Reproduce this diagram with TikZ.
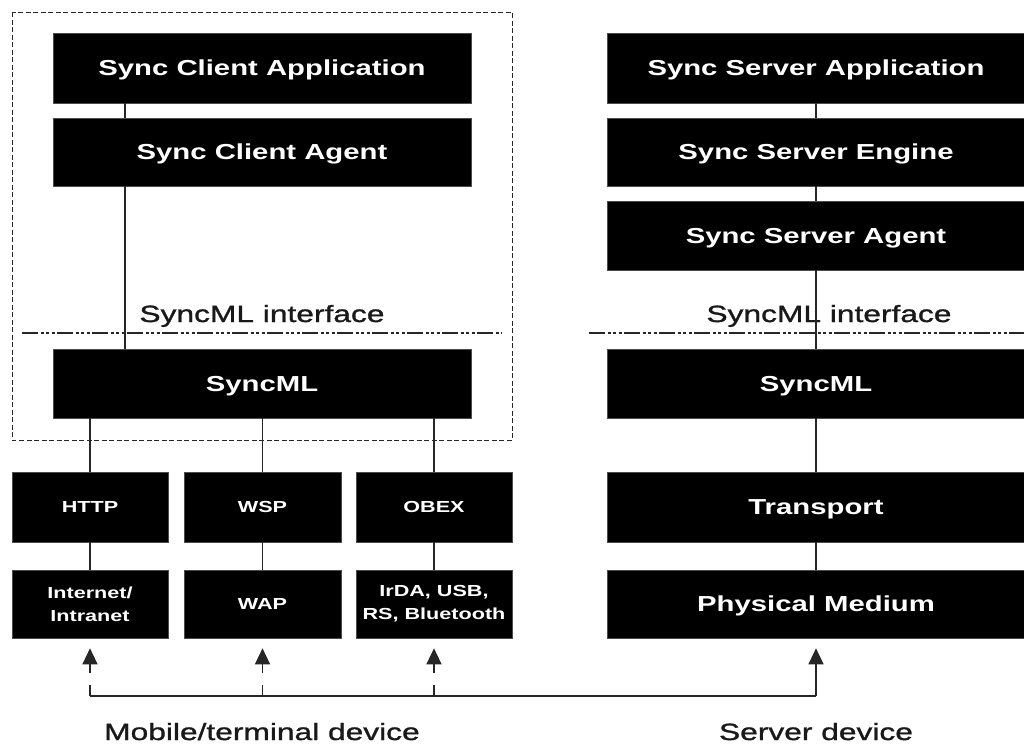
\documentclass[tikz,border=0pt]{standalone}
\usepackage{fontspec}
\setmainfont[FakeStretch=1.35]{Liberation Sans}
\newfontfamily\lblfont[FakeStretch=1.35,FakeBold=1.2]{Liberation Sans}
\usetikzlibrary{arrows.meta}
\begin{document}
\begin{tikzpicture}[x=1pt,y=-1pt,
  blk/.style={fill=black,draw=black!70,line width=0.6pt,text=white,inner sep=0pt},
  big/.style={blk,minimum width=418pt,font=\fontsize{21.7}{26}\selectfont\bfseries,text height=15.6pt,text depth=0pt},
  small/.style={blk,font=\fontsize{16}{23}\selectfont\bfseries,align=center},
  conn/.style={draw=black!85,line width=1.3pt},
  arr/.style={conn,-{Triangle[width=15pt,length=16pt]}},
  gaparr/.style={arr,dash pattern=on 11pt off 12pt on 60pt},
  dashbox/.style={draw=black!85,line width=1pt,dash pattern=on 5pt off 2.5pt},
  ifline/.style={draw=black!85,line width=1.2pt,dash pattern=on 16pt off 2.5pt on 3pt off 2.5pt on 3pt off 2.5pt on 3pt off 2.5pt},
  lbl/.style={text=black!90,inner sep=0pt,anchor=base,font=\lblfont\fontsize{23.5}{28}\selectfont}
]
\useasboundingbox (0,0) rectangle (1024,745);
\fill[white] (0,0) rectangle (1024,745);

% dashed client frame
\draw[dashbox] (12,12) rectangle (512,440);

% client stack
\node[big,minimum height=70pt] (capp) at (262,68) {Sync Client Application};
\node[big,minimum height=68pt] (cagent) at (262,152) {Sync Client Agent};
\node[big,minimum height=69pt] (csync) at (262,383.5) {SyncML};

\node[small,minimum width=156pt,minimum height=70pt] (http) at (90,507) {HTTP};
\node[small,minimum width=157pt,minimum height=70pt] (wsp) at (262.5,507) {WSP};
\node[small,minimum width=156pt,minimum height=70pt] (obex) at (434,507) {OBEX};
\node[small,minimum width=156pt,minimum height=68pt] (inet) at (90,604) {Internet/\\Intranet};
\node[small,minimum width=157pt,minimum height=68pt] (wap) at (262.5,604) {WAP};
\node[small,minimum width=156pt,minimum height=68pt] (irda) at (434,604) {IrDA, USB,\\RS, Bluetooth};

% server stack
\node[big,minimum height=70pt] (sapp) at (816,68) {Sync Server Application};
\node[big,minimum height=68pt] (seng) at (816,152) {Sync Server Engine};
\node[big,minimum height=69pt] (sagent) at (816,235.5) {Sync Server Agent};
\node[big,minimum height=69pt] (ssync) at (816,383.5) {SyncML};
\node[big,minimum height=70pt] (trans) at (816,507) {Transport};
\node[big,minimum height=68pt] (phys) at (816,604) {Physical Medium};

% interface lines and labels
\draw[ifline] (22,333) -- (502,333);
\draw[ifline] (589,333) -- (1024,333);
\node[lbl] (ifl) at (262,322) {SyncML interface};
\node[lbl] (ifr) at (829,322) {SyncML interface};

% connectors
\coordinate (lx) at (125,0);
\draw[conn] (capp.south -| lx) -- (cagent.north -| lx);
\draw[conn] (cagent.south -| lx) -- (csync.north -| lx);
\draw[conn] (http.north |- csync.south) -- (http.north);
\draw[conn] (wsp.north |- csync.south) -- (wsp.north);
\draw[conn] (obex.north |- csync.south) -- (obex.north);
\draw[conn] (http.south) -- (inet.north);
\draw[conn] (wsp.south) -- (wap.north);
\draw[conn] (obex.south) -- (irda.north);

\draw[conn] (sapp.south) -- (seng.north);
\draw[conn] (seng.south) -- (sagent.north);
\draw[conn] (sagent.south) -- (ssync.north);
\draw[conn] (ssync.south) -- (trans.north);
\draw[conn] (trans.south) -- (phys.north);

% bottom bus and arrows
\coordinate (busy) at (0,696);
\draw[conn] (inet.south |- busy) -- (phys.south |- busy);
\draw[gaparr] (inet.south |- busy) -- ([yshift=-10pt]inet.south);
\draw[gaparr] (wap.south |- busy) -- ([yshift=-10pt]wap.south);
\draw[gaparr] (irda.south |- busy) -- ([yshift=-10pt]irda.south);
\draw[arr] (phys.south |- busy) -- ([yshift=-10pt]phys.south);

\node[lbl] (mob) at (262,740) {Mobile/terminal device};
\node[lbl] (srv) at (816,740) {Server device};
\end{tikzpicture}
\end{document}
